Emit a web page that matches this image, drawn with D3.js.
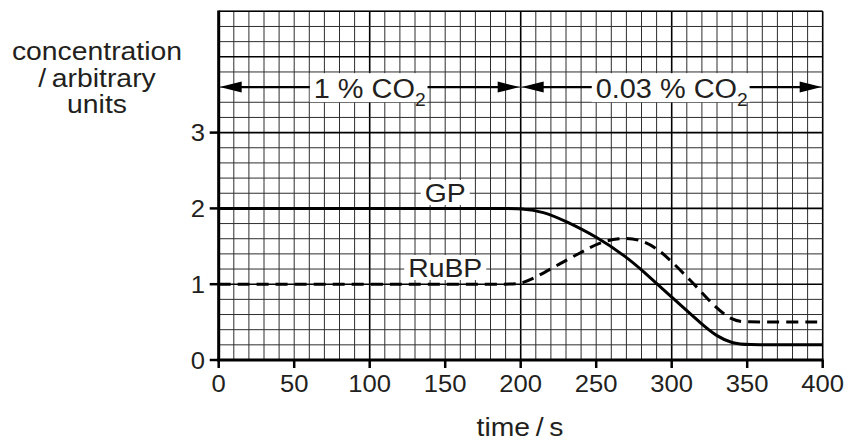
<!DOCTYPE html>
<html lang="en">
<head>
<meta charset="utf-8">
<title>GP and RuBP</title>
<style>
  body { margin: 0; background: #fff; }
  svg text { font-family: "Liberation Sans", Arial, sans-serif; fill: #231f20; }
</style>
</head>
<body>
<svg id="chart" width="849" height="441"></svg>
<script src="https://d3js.org/d3.v7.min.js"></script>
<script>
// data
const xTicks = [0, 50, 100, 150, 200, 250, 300, 350, 400];
const yTicks = [0, 1, 2, 3];
const gpTime  = [0, 100, 190, 200, 215, 230, 250, 270, 280, 300, 320, 330, 340, 350, 375, 400];
const gpValue = [2, 2, 2, 2, 1.96, 1.83, 1.63, 1.36, 1.19, 0.83, 0.47, 0.31, 0.22, 0.2, 0.2, 0.2];
const rubpTime  = [0, 100, 190, 200, 210, 225, 240, 252, 265, 278, 290, 300, 315, 328, 340, 348, 375, 400];
const rubpValue = [1, 1, 1, 1, 1.09, 1.26, 1.42, 1.55, 1.61, 1.6, 1.48, 1.3, 1.0, 0.71, 0.52, 0.5, 0.5, 0.5];
const periodStart = [0, 200];
const periodEnd   = [200, 400];
const periodLabel = ["1 % CO", "0.03 % CO"];
const periodLevel = 3.6;
const seriesName  = ["GP", "RuBP"];
const seriesLabelTime  = [150, 150];
const seriesLabelValue = [2.21, 1.22];

const svg = d3.select("#chart");
const x = d3.scaleLinear().domain([0, 400]).range([218.7, 822.7]);
const y = d3.scaleLinear().domain([0, 4.6]).range([360, 360 - 4.6 * 75.8]);

// widen text a little, the original lettering is broader than Arial
function stretch(sel, k) {
  sel.each(function () {
    const w = this.getComputedTextLength();
    this.setAttribute("textLength", w * k);
    this.setAttribute("lengthAdjust", "spacingAndGlyphs");
  });
}

// graph paper
const grid = svg.append("g");
const vLines = d3.range(0, 401, 10);
const hLines = d3.range(0, 23.5).map(i => +(i * 0.2).toFixed(1));
grid.selectAll("line.v").data(vLines).enter().append("line")
  .attr("x1", d => x(d)).attr("x2", d => x(d))
  .attr("y1", y(0)).attr("y2", y(4.6))
  .attr("stroke", d => d % 100 === 0 ? "#000" : "#2e2e2e")
  .attr("stroke-width", d => d % 100 === 0 ? 1.6 : 1);
grid.selectAll("line.h").data(hLines).enter().append("line")
  .attr("y1", d => y(d)).attr("y2", d => y(d))
  .attr("x1", x(0)).attr("x2", x(400))
  .attr("stroke", d => Number.isInteger(d) ? "#000" : "#2e2e2e")
  .attr("stroke-width", d => Number.isInteger(d) ? 1.6 : 1);
grid.append("line").attr("x1", x(0)).attr("x2", x(400)).attr("y1", y(4.6)).attr("y2", y(4.6))
  .attr("stroke", "#000").attr("stroke-width", 1.6);

// axes
svg.append("line").attr("x1", x(0)).attr("x2", x(0)).attr("y1", y(4.6) - 0.8).attr("y2", y(0) + 1.5)
  .attr("stroke", "#000").attr("stroke-width", 3);
svg.append("line").attr("x1", x(0) - 1.5).attr("x2", x(400) + 0.8).attr("y1", y(0)).attr("y2", y(0))
  .attr("stroke", "#000").attr("stroke-width", 3);

svg.selectAll("line.xt").data(xTicks).enter().append("line")
  .attr("x1", d => x(d)).attr("x2", d => x(d)).attr("y1", y(0)).attr("y2", y(0) + 8)
  .attr("stroke", "#000").attr("stroke-width", 2.5);
svg.selectAll("line.yt").data(yTicks).enter().append("line")
  .attr("x1", x(0) - 9).attr("x2", x(0)).attr("y1", d => y(d)).attr("y2", d => y(d))
  .attr("stroke", "#000").attr("stroke-width", 2.5);

const xt = svg.selectAll("text.xt").data(xTicks).enter().append("text")
  .attr("x", d => x(d)).attr("y", 392).attr("text-anchor", "middle")
  .style("font-size", "23.5px").text(d => d);
stretch(xt, 1.09);
const yt = svg.selectAll("text.yt").data(yTicks).enter().append("text")
  .attr("x", 205).attr("y", d => y(d) + 8.5).attr("text-anchor", "end")
  .style("font-size", "23.5px").text(d => d);
stretch(yt, 1.09);

// axis titles
const yTitle = ["concentration", "/\u2009arbitrary", "units"];
const yTitleText = svg.append("text").attr("text-anchor", "middle").style("font-size", "26px");
const yLines = yTitleText.selectAll("tspan").data(yTitle).enter().append("tspan")
  .attr("x", 97).attr("y", (d, i) => 60 + i * 26.6).text(d => d);
stretch(yLines, 1.09);
const xTitle = svg.append("text").attr("x", 520).attr("y", 436).attr("text-anchor", "middle")
  .style("font-size", "26px").text("time\u2009/\u2009s");
stretch(xTitle, 1.09);

// curves
const line = d3.line().x(d => x(d[0])).y(d => y(d[1])).curve(d3.curveBasis);
svg.append("path").datum(gpTime.map((t, i) => [t, gpValue[i]]))
  .attr("d", line).attr("fill", "none").attr("stroke", "#000").attr("stroke-width", 3);
svg.append("path").datum(rubpTime.map((t, i) => [t, rubpValue[i]]))
  .attr("d", line).attr("fill", "none").attr("stroke", "#000").attr("stroke-width", 3)
  .attr("stroke-dasharray", "12,7");

// series labels on white boxes
seriesName.forEach((name, i) => {
  const g = svg.append("g");
  const t = g.append("text").attr("x", x(seriesLabelTime[i])).attr("y", y(seriesLabelValue[i]) + 9.5)
    .attr("text-anchor", "middle").style("font-size", "26px").text(name);
  stretch(t, 1.09);
  const b = t.node().getBBox();
  g.insert("rect", "text").attr("x", b.x - 4).attr("y", b.y + 2).attr("width", b.width + 8)
    .attr("height", b.height - 5).attr("fill", "#fff");
});

// CO2 period arrows
const ay = y(periodLevel);
function head(px, dir) {
  svg.append("path")
    .attr("d", `M${px},${ay} L${px + dir * 22},${ay - 5.5} L${px + dir * 22},${ay + 5.5} Z`)
    .attr("fill", "#000");
}
periodLabel.forEach((lab, i) => {
  const cx = x((periodStart[i] + periodEnd[i]) / 2);
  const g = svg.append("g");
  const t = g.append("text").attr("x", cx).attr("y", ay + 10.5).attr("text-anchor", "middle")
    .style("font-size", "27px");
  t.append("tspan").text(lab);
  t.append("tspan").attr("dy", 8).style("font-size", "18px").text("2");
  stretch(t, 1.07);
  const b = t.node().getBBox();
  g.insert("rect", "text").attr("x", b.x - 4).attr("y", ay - 14).attr("width", b.width + 6)
    .attr("height", 29).attr("fill", "#fff");
  const x0 = x(periodStart[i]), x1 = x(periodEnd[i]);
  svg.append("line").attr("x1", x0 + 10).attr("x2", b.x - 4).attr("y1", ay).attr("y2", ay)
    .attr("stroke", "#000").attr("stroke-width", 2.2);
  svg.append("line").attr("x1", b.x + b.width + 2).attr("x2", x1 - 10).attr("y1", ay).attr("y2", ay)
    .attr("stroke", "#000").attr("stroke-width", 2.2);
  head(x0 + 1, 1);
  head(x1 - 1, -1);
});
</script>
</body>
</html>
